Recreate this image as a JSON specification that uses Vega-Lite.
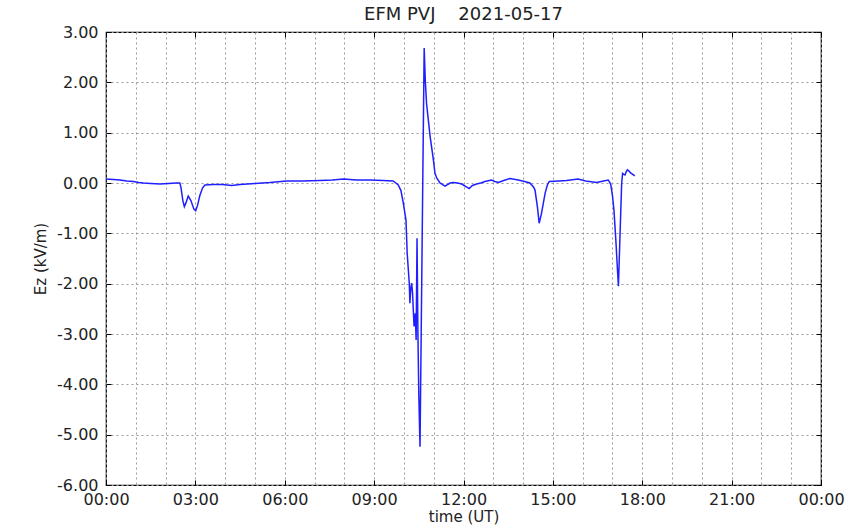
{
  "$schema": "https://vega.github.io/schema/vega-lite/v6.json",
  "width": 715,
  "height": 453,
  "autosize": {"type": "none"},
  "padding": {"left": 106, "top": 32, "right": 40, "bottom": 46},
  "background": "white",
  "config": {
    "font": "DejaVu Sans",
    "view": {"stroke": "black", "strokeWidth": 1.2},
    "axis": {
      "labelFont": "DejaVu Sans",
      "labelFontSize": 16,
      "labelColor": "#222222",
      "titleFont": "DejaVu Sans",
      "titleFontSize": 15,
      "titleFontWeight": "normal",
      "titleColor": "#222222",
      "domain": false,
      "tickSize": -5,
      "tickWidth": 1,
      "gridColor": "#9a9a9a",
      "gridDash": [2, 3],
      "gridWidth": 1,
      "gridOpacity": 1
    }
  },
  "title": {
    "text": "EFM PVJ\u00a0\u00a0\u00a0\u00a02021-05-17",
    "font": "DejaVu Sans",
    "fontSize": 18,
    "fontWeight": "normal",
    "color": "#222222",
    "offset": 0
  },
  "data": {
    "values": [
      {"t": 0.00, "ez": 0.08}, {"t": 0.25, "ez": 0.07}, {"t": 0.47, "ez": 0.06}, {"t": 0.70, "ez": 0.04},
      {"t": 0.92, "ez": 0.03}, {"t": 1.10, "ez": 0.01}, {"t": 1.25, "ez": 0.00}, {"t": 1.50, "ez": -0.01},
      {"t": 1.81, "ez": -0.02}, {"t": 2.10, "ez": -0.01}, {"t": 2.35, "ez": 0.00}, {"t": 2.48, "ez": 0.00},
      {"t": 2.52, "ez": -0.10}, {"t": 2.58, "ez": -0.35}, {"t": 2.63, "ez": -0.47}, {"t": 2.68, "ez": -0.40},
      {"t": 2.76, "ez": -0.26}, {"t": 2.85, "ez": -0.35}, {"t": 2.95, "ez": -0.52}, {"t": 3.01, "ez": -0.55},
      {"t": 3.07, "ez": -0.45}, {"t": 3.15, "ez": -0.25}, {"t": 3.24, "ez": -0.10}, {"t": 3.32, "ez": -0.04},
      {"t": 3.60, "ez": -0.03}, {"t": 3.90, "ez": -0.03}, {"t": 4.22, "ez": -0.05}, {"t": 4.50, "ez": -0.03},
      {"t": 5.00, "ez": -0.01}, {"t": 5.50, "ez": 0.01}, {"t": 6.06, "ez": 0.04}, {"t": 6.60, "ez": 0.04},
      {"t": 7.18, "ez": 0.05}, {"t": 7.60, "ez": 0.06}, {"t": 7.97, "ez": 0.08}, {"t": 8.40, "ez": 0.06},
      {"t": 8.86, "ez": 0.06}, {"t": 9.30, "ez": 0.05}, {"t": 9.64, "ez": 0.04}, {"t": 9.81, "ez": -0.04},
      {"t": 9.90, "ez": -0.15}, {"t": 9.98, "ez": -0.40}, {"t": 10.07, "ez": -0.74}, {"t": 10.11, "ez": -1.40},
      {"t": 10.18, "ez": -1.99}, {"t": 10.20, "ez": -2.39}, {"t": 10.23, "ez": -2.10}, {"t": 10.26, "ez": -1.99},
      {"t": 10.29, "ez": -2.19}, {"t": 10.34, "ez": -2.85}, {"t": 10.38, "ez": -2.59}, {"t": 10.41, "ez": -3.12},
      {"t": 10.44, "ez": -1.10}, {"t": 10.47, "ez": -3.00}, {"t": 10.50, "ez": -4.20}, {"t": 10.54, "ez": -5.24},
      {"t": 10.68, "ez": 2.68}, {"t": 10.72, "ez": 2.00}, {"t": 10.76, "ez": 1.58}, {"t": 10.82, "ez": 1.25},
      {"t": 10.88, "ez": 0.92}, {"t": 10.99, "ez": 0.46}, {"t": 11.04, "ez": 0.20}, {"t": 11.10, "ez": 0.10},
      {"t": 11.21, "ez": 0.00}, {"t": 11.38, "ez": -0.06}, {"t": 11.55, "ez": 0.00}, {"t": 11.66, "ez": 0.01},
      {"t": 11.80, "ez": 0.00}, {"t": 11.94, "ez": -0.02}, {"t": 12.19, "ez": -0.11}, {"t": 12.30, "ez": -0.05},
      {"t": 12.44, "ez": -0.02}, {"t": 12.58, "ez": 0.00}, {"t": 12.72, "ez": 0.03}, {"t": 12.94, "ez": 0.06},
      {"t": 13.05, "ez": 0.03}, {"t": 13.17, "ez": 0.01}, {"t": 13.35, "ez": 0.05}, {"t": 13.56, "ez": 0.09},
      {"t": 13.84, "ez": 0.06}, {"t": 14.05, "ez": 0.03}, {"t": 14.23, "ez": 0.00}, {"t": 14.35, "ez": -0.08},
      {"t": 14.40, "ez": -0.14}, {"t": 14.48, "ez": -0.47}, {"t": 14.54, "ez": -0.80}, {"t": 14.62, "ez": -0.60},
      {"t": 14.68, "ez": -0.40}, {"t": 14.74, "ez": -0.20}, {"t": 14.82, "ez": -0.03}, {"t": 14.88, "ez": 0.03},
      {"t": 15.20, "ez": 0.04}, {"t": 15.46, "ez": 0.05}, {"t": 15.85, "ez": 0.08}, {"t": 16.10, "ez": 0.04},
      {"t": 16.47, "ez": 0.01}, {"t": 16.70, "ez": 0.04}, {"t": 16.86, "ez": 0.06}, {"t": 16.94, "ez": -0.02},
      {"t": 17.00, "ez": -0.25}, {"t": 17.05, "ez": -0.54}, {"t": 17.12, "ez": -1.20}, {"t": 17.17, "ez": -1.75},
      {"t": 17.20, "ez": -2.05}, {"t": 17.24, "ez": -1.30}, {"t": 17.28, "ez": -0.54}, {"t": 17.31, "ez": 0.00},
      {"t": 17.34, "ez": 0.19}, {"t": 17.38, "ez": 0.17}, {"t": 17.42, "ez": 0.16}, {"t": 17.46, "ez": 0.22},
      {"t": 17.50, "ez": 0.26}, {"t": 17.55, "ez": 0.24}, {"t": 17.61, "ez": 0.20}, {"t": 17.68, "ez": 0.17},
      {"t": 17.75, "ez": 0.14}
    ]
  },
  "resolve": {"axis": {"x": "independent", "y": "independent"}},
  "layer": [
    {
      "mark": {"type": "line", "color": "#1f1fff", "strokeWidth": 1.5, "interpolate": "linear"},
      "encoding": {
        "x": {
          "field": "t",
          "type": "quantitative",
          "scale": {"domain": [0, 24], "nice": false, "zero": false},
          "axis": {
            "orient": "bottom",
            "title": "time (UT)",
            "titlePadding": 2,
            "values": [0, 1, 2, 3, 4, 5, 6, 7, 8, 9, 10, 11, 12, 13, 14, 15, 16, 17, 18, 19, 20, 21, 22, 23, 24],
            "labelExpr": "datum.value % 3 === 0 ? ((datum.value % 24) < 10 ? '0' : '') + (datum.value % 24) + ':00' : ''",
            "labelPadding": 11,
            "labelFlush": false,
            "labelOverlap": false,
            "tickColor": {"condition": {"test": "datum.value % 3 === 0", "value": "black"}, "value": "transparent"},
            "grid": true
          }
        },
        "y": {
          "field": "ez",
          "type": "quantitative",
          "scale": {"domain": [-6, 3], "nice": false, "zero": false},
          "axis": {
            "orient": "left",
            "title": "Ez (kV/m)",
            "titlePadding": 8,
            "values": [-6, -5, -4, -3, -2, -1, 0, 1, 2, 3],
            "labelExpr": "replace(format(datum.value, '.2f'), '\u2212', '-')",
            "labelPadding": 13,
            "labelFlush": false,
            "labelOverlap": false,
            "tickColor": "black",
            "grid": true
          }
        }
      }
    },
    {
      "mark": {"type": "line", "opacity": 0},
      "encoding": {
        "x": {
          "field": "t",
          "type": "quantitative",
          "axis": {
            "orient": "top",
            "title": null,
            "labels": false,
            "grid": false,
            "values": [0, 3, 6, 9, 12, 15, 18, 21, 24],
            "tickColor": "black"
          }
        },
        "y": {
          "field": "ez",
          "type": "quantitative",
          "axis": {
            "orient": "right",
            "title": null,
            "labels": false,
            "grid": false,
            "values": [-6, -5, -4, -3, -2, -1, 0, 1, 2, 3],
            "tickColor": "black"
          }
        }
      }
    }
  ]
}
